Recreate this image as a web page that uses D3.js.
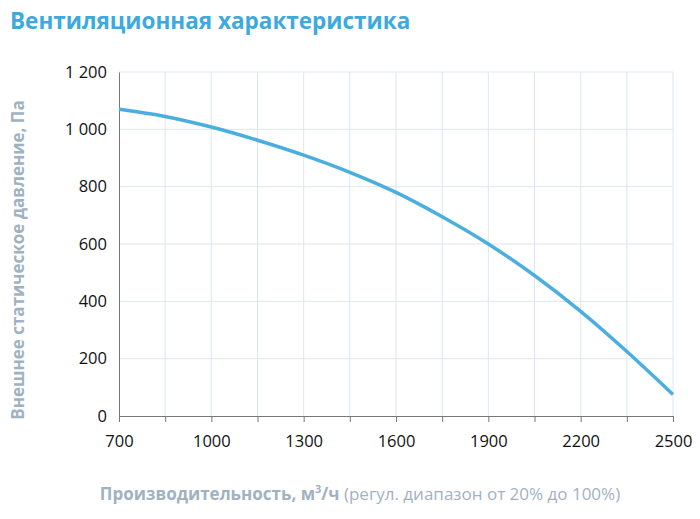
<!DOCTYPE html>
<html><head><meta charset="utf-8">
<script src="https://cdn.jsdelivr.net/npm/d3@7"></script>
<style>body{margin:0;background:#fff;font-family:"Open Sans",sans-serif}</style>
</head><body><svg id="c" width="700" height="519"></svg>
<script>
const flow = [700,850,1000,1150,1300,1450,1600,1750,1900,2050,2200,2350,2500];
const pressure = [1070,1045,1008,962,910,850,780,695,600,490,365,225,75];
const xTickLabels = [700,1000,1300,1600,1900,2200,2500];
const yTickLabels = [0,200,400,600,800,1000,1200];

const svg = d3.select("#c");
const x = d3.scaleLinear().domain([700,2500]).range([119,673]);
const y = d3.scaleLinear().domain([0,1200]).range([416,72]);
const grid = "#dde6f0";

svg.append("text").attr("x",10).attr("y",29).attr("fill","#3ea9dc")
  .attr("font-size",22.5).attr("font-weight","bold").text("Вентиляционная характеристика");

const gx = d3.range(850,2501,150);
svg.selectAll(".vg").data(gx).enter().append("line")
  .attr("x1",d=>x(d)).attr("x2",d=>x(d)).attr("y1",y(1200)).attr("y2",y(0)).attr("stroke",grid);
svg.selectAll(".hg").data(yTickLabels.slice(1)).enter().append("line")
  .attr("x1",x(700)).attr("x2",x(2500)).attr("y1",d=>y(d)).attr("y2",d=>y(d)).attr("stroke",grid);

const xa = svg.append("g").attr("transform",`translate(0,${y(0)})`)
  .call(d3.axisBottom(x).tickValues(d3.range(700,2501,150)).tickSize(6).tickFormat(d=>xTickLabels.includes(d)?d:""));
xa.select(".domain").attr("stroke","#777");
xa.selectAll(".tick line").attr("stroke","#777");
xa.selectAll("text").attr("font-size",16.5).attr("fill","#111").attr("dy","1.35em").attr("font-family","Open Sans");

const ya = svg.append("g").attr("transform",`translate(${x(700)},0)`)
  .call(d3.axisLeft(y).tickValues(yTickLabels).tickSize(0).tickPadding(12)
  .tickFormat(d=>d>=1000?d3.format(",")(d).replace(","," "):d));
ya.select(".domain").attr("stroke","#777");
ya.selectAll("text").attr("font-size",16.5).attr("fill","#111").attr("font-family","Open Sans");

svg.append("path").datum(flow.map((f,i)=>[f,pressure[i]]))
  .attr("d",d3.line().x(d=>x(d[0])).y(d=>y(d[1])).curve(d3.curveMonotoneX))
  .attr("fill","none").attr("stroke","#4aafdf").attr("stroke-width",3.5);

svg.append("text").attr("transform",`translate(24,${(95+425)/2}) rotate(-90)`).attr("text-anchor","middle")
  .attr("fill","#9fb2c2").attr("font-size",17).attr("font-weight","bold")
  .text("Внешнее статическое давление, Па");

const xl = svg.append("text").attr("x",360).attr("y",500).attr("text-anchor","middle")
  .attr("fill","#9fb2c2").attr("font-size",17);
xl.append("tspan").attr("font-weight","bold").text("Производительность, м");
xl.append("tspan").attr("font-weight","bold").attr("font-size",11).attr("dy",-7).text("3");
xl.append("tspan").attr("font-weight","bold").attr("dy",7).text("/ч");
xl.append("tspan").text(" (регул. диапазон от 20% до 100%)");
</script></body></html>
